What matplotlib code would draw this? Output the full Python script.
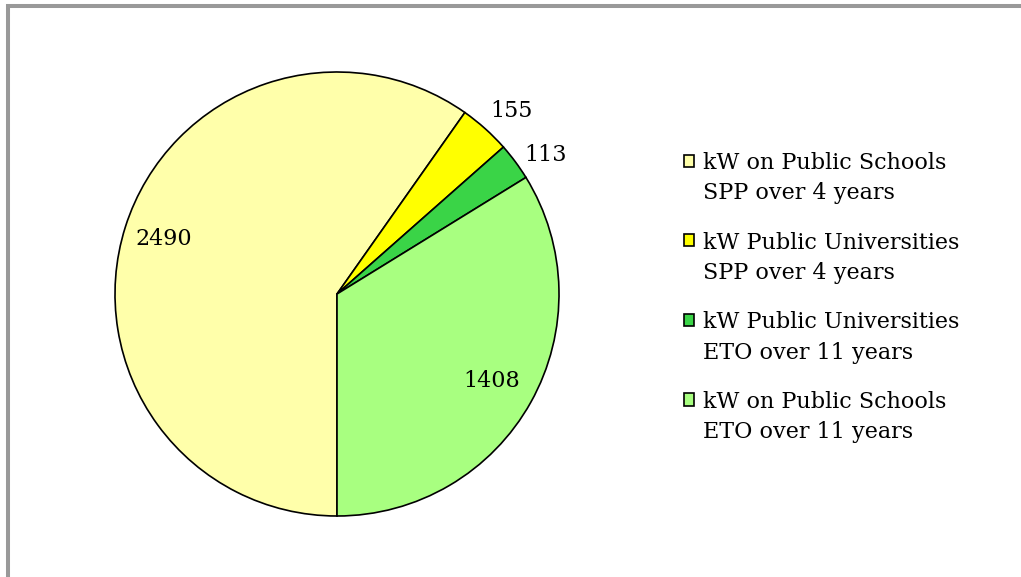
import matplotlib
matplotlib.use("Agg")
import matplotlib.pyplot as plt
import numpy as np
from matplotlib.patches import Rectangle
from matplotlib.lines import Line2D
from matplotlib.legend_handler import HandlerPatch

labels = ["kW on Public Schools\nSPP over 4 years",
          "kW Public Universities\nSPP over 4 years",
          "kW Public Universities\nETO over 11 years",
          "kW on Public Schools\nETO over 11 years"]
values = [2490, 155, 113, 1408]
colors = ["#FFFFAA", "#FFFF00", "#3AD447", "#A8FF80"]
label_r = [0.82, 1.14, 1.13, 0.80]
label_dang = [0, -1.7, -2.8, 0]

plt.rcParams['font.family'] = ['DejaVu Serif']

fig = plt.figure(figsize=(10.21, 5.77), dpi=100)
W, H = 1021, 577
ax = fig.add_axes([115 / W, 61 / H, 444 / W, 444 / H])
wedges, _ = ax.pie(values, colors=colors, startangle=-90, counterclock=False,
                   radius=1.0, wedgeprops=dict(edgecolor="black", linewidth=1.2))
ax.set_xlim(-1, 1)
ax.set_ylim(-1, 1)
ax.set_aspect("equal")
ax.axis("off")

for w, v, r, da in zip(wedges, values, label_r, label_dang):
    mid = np.deg2rad((w.theta1 + w.theta2) / 2 + da)
    ax.text(r * np.cos(mid), r * np.sin(mid), str(v), ha="center", va="center",
            fontsize=16, color="black")


def top_square(legend, orig_handle, xdescent, ydescent, width, height, fontsize):
    return Rectangle((-xdescent, -ydescent + 0.82 * fontsize), width, height)


handles = [Rectangle((0, 0), 1, 1, facecolor=c, edgecolor="black", linewidth=1.2) for c in colors]
leg = fig.legend(handles, labels, loc="upper left", bbox_to_anchor=(684 / W, 1 - 152 / H),
                 frameon=False, fontsize=16, handlelength=0.47, handleheight=0.47,
                 handletextpad=0.38, labelspacing=1.22, borderpad=0, borderaxespad=0,
                 handler_map={Rectangle: HandlerPatch(patch_func=top_square)})
for t in leg.get_texts():
    t.set_linespacing(1.5)

# gray border on top and left
fig.add_artist(Line2D([8 / W, 8 / W], [0, 1 - 4 / H], color="#999999", linewidth=2.9,
                      transform=fig.transFigure, solid_capstyle="butt"))
fig.add_artist(Line2D([6 / W, 1], [1 - 6 / H, 1 - 6 / H], color="#999999", linewidth=2.9,
                      transform=fig.transFigure, solid_capstyle="butt"))

fig.savefig("out.png", dpi=100)
